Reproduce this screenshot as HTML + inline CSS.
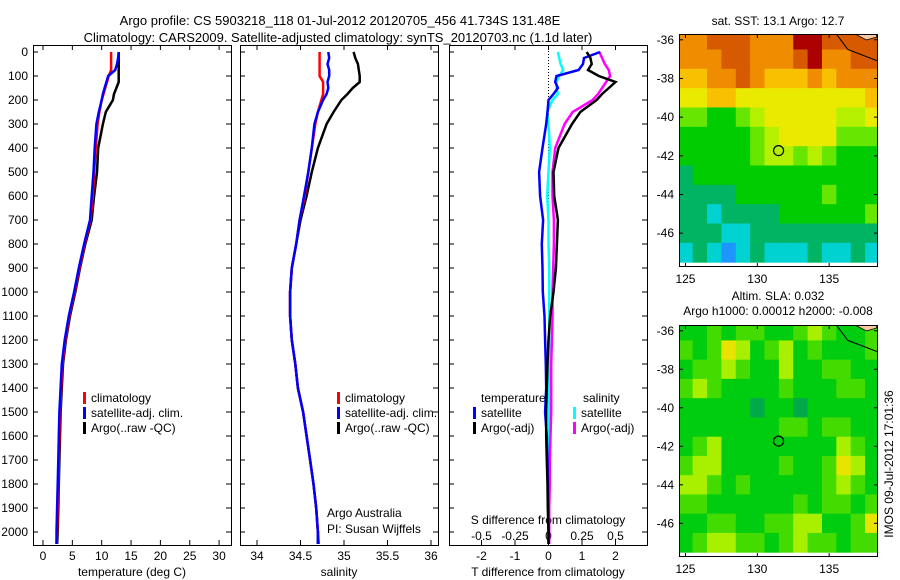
<!DOCTYPE html>
<html><head><meta charset="utf-8">
<style>
html,body{margin:0;padding:0;background:#fff;}
svg{display:block;font-family:"Liberation Sans",sans-serif;font-size:12px;}
</style></head>
<body>
<svg id="c" width="900" height="580" viewBox="0 0 900 580"></svg>
<script>
// ---- profile data ----
const depths=[0,25,50,75,100,125,150,175,200,250,300,400,500,600,700,800,900,1000,1100,1200,1300,1400,1500,1600,1700,1800,1900,2000,2050];
const tempArgo=[12.9,12.9,12.9,12.9,12.9,12.9,12.5,12.1,11.9,10.7,10.2,9.4,9.2,8.7,8.3,7.2,6.3,5.5,4.6,3.9,3.4,3.2,3.0,2.9,2.8,2.7,2.6,2.5,2.4];
const tempClim=[11.6,11.6,11.6,11.6,11.2,10.9,10.6,10.3,10.0,9.6,9.3,9.0,8.7,8.5,8.1,7.1,6.2,5.4,4.5,3.8,3.3,3.1,2.9,2.8,2.7,2.6,2.5,2.4,2.3];
const tempSat=[12.9,12.8,12.6,12.3,11.1,10.8,10.5,10.2,10.0,9.5,9.1,8.8,8.6,8.3,8.0,7.0,6.1,5.3,4.4,3.7,3.2,3.0,2.8,2.7,2.6,2.5,2.4,2.3,2.3];
const salArgo=[35.11,35.13,35.16,35.17,35.18,35.18,35.10,35.04,34.97,34.88,34.80,34.70,34.63,34.57,34.50,34.45,34.40,34.38,34.38,34.40,34.44,34.47,34.53,34.57,34.61,34.65,34.68,34.70,34.70];
const salClim=[34.72,34.72,34.72,34.72,34.72,34.76,34.76,34.76,34.74,34.70,34.67,34.63,34.59,34.55,34.49,34.45,34.40,34.38,34.38,34.40,34.44,34.47,34.53,34.57,34.61,34.65,34.68,34.70,34.71];
const salSat=[34.82,34.83,34.81,34.83,34.83,34.81,34.82,34.80,34.76,34.70,34.66,34.63,34.59,34.54,34.49,34.45,34.40,34.38,34.38,34.40,34.44,34.47,34.53,34.57,34.61,34.65,34.68,34.70,34.70];
const tDiffArgo=[1.14,1.25,1.29,1.18,1.5,2.0,1.8,1.6,1.44,0.95,0.7,0.3,0.15,0.17,0.28,0.25,0.22,0.15,0.05,0.0,-0.03,-0.05,-0.07,-0.07,-0.05,-0.03,-0.02,0,0];
const tDiffSat=[1.54,1.06,1.03,0.9,0.24,0.2,0.28,0.15,0.0,-0.03,-0.07,-0.18,-0.28,-0.25,-0.16,-0.2,-0.18,-0.17,-0.12,-0.1,-0.08,-0.07,-0.1,-0.05,-0.03,-0.02,-0.01,0,0];
const sDiffSat=[0.07,0.08,0.09,0.11,0.08,0.06,0.06,0.07,0.03,-0.01,0,0.01,0,-0.01,0,0,0.005,0.005,0.005,0.005,0.005,0.005,0.005,0.005,0.005,0.005,0.005,0.005,0.005];
const sDiffArgo=[0.38,0.40,0.42,0.45,0.46,0.43,0.40,0.37,0.33,0.18,0.12,0.05,0.03,0.03,0.04,0.04,0.035,0.03,0.03,0.025,0.02,0.02,0.02,0.015,0.01,0.01,0.005,0.005,0.005];
const depthTicks=[0,100,200,300,400,500,600,700,800,900,1000,1100,1200,1300,1400,1500,1600,1700,1800,1900,2000];
const tempTicks=[0,5,10,15,20,25,30];
const salTicks=[34,34.5,35,35.5,36];
const tDiffTicks=[-2,-1,0,1,2];
const sDiffTicks=[-0.5,-0.25,0,0.25,0.5];
// ---- map data (1-degree cells, rows from lat -36 to -47, cols lon 125..138) ----
const mapLons=[125,126,127,128,129,130,131,132,133,134,135,136,137,138];
const mapLats=[-36,-37,-38,-39,-40,-41,-42,-43,-44,-45,-46,-47];
const sstGrid=[
[8,8,9,9,9,8,8,8,10,10,9,9,9,9],
[8,8,8,9,9,8,8,8,9,10,8,8,9,9],
[7,7,8,8,9,8,7,7,7,8,7,8,8,8],
[6,6,7,7,6,6,6,6,6,6,6,6,6,7],
[4,4,3,3,4,5,6,6,6,6,6,5,5,6],
[3,3,3,3,3,4,5,6,6,6,6,4,4,4],
[3,3,3,3,3,4,5,5,4,5,4,3,3,3],
[2,3,3,3,3,3,3,3,3,3,3,3,3,3],
[2,2,2,2,3,3,3,3,3,3,4,3,3,3],
[2,2,1,2,2,2,2,3,3,3,3,3,3,4],
[2,2,2,1,1,2,2,2,2,2,2,2,2,2],
[1,2,1,0,1,2,1,1,1,2,1,1,2,1]];
const slaGrid=[
[3,3,4,3,4,4,3,3,4,5,4,3,3,4],
[4,3,4,6,5,3,4,5,3,4,3,3,3,4],
[3,4,4,5,4,3,3,5,3,3,4,4,3,3],
[4,5,4,3,3,3,3,4,3,3,3,4,4,3],
[3,3,3,3,3,2,3,3,2,3,3,3,3,3],
[3,3,3,3,3,3,3,4,4,3,4,4,3,3],
[3,4,5,3,3,3,3,3,3,3,3,5,4,3],
[4,5,5,3,3,3,3,4,3,3,4,6,5,3],
[5,5,4,3,4,3,3,3,3,3,4,5,4,3],
[4,4,3,3,3,3,3,3,4,3,4,4,3,4],
[3,3,4,4,3,3,4,4,5,5,3,3,4,6],
[3,4,5,5,4,4,3,4,5,4,4,3,4,4]];
const floatLon=131.48, floatLat=-41.73;
const mapLonTicks=[125,130,135];
const mapLatTicks=[-36,-38,-40,-42,-44,-46];
const coastLon=[135.5,136.3,138.4], coastLat=[-35.7,-36.5,-37.1];

const NS="http://www.w3.org/2000/svg";
const svg=document.getElementById('c');
function el(tag,attrs,parent){const e=document.createElementNS(NS,tag);for(const k in attrs)e.setAttribute(k,attrs[k]);(parent||svg).appendChild(e);return e;}
function txt(x,y,s,anchor,parent){const t=el('text',{x:x,y:y,'text-anchor':anchor||'start',fill:'#000'},parent);t.textContent=s;return t;}

const yD=d=>52+d*0.24;
const TOP=45, BOT=545;
const xT=t=>43+t*5.87;
const xS=s=>257+(s-34)*87;
const xTd=t=>548.5+t*33.5;
const xSd=s=>548.5+s*134;

function frame(x0,x1,name){
  const g=el('g',{});
  
  
  el('rect',{x:x0+0.5,y:TOP+0.5,width:x1-x0,height:BOT-TOP,fill:'none',stroke:'#000','stroke-width':1},g);
  depthTicks.forEach(d=>{el('line',{x1:x0,x2:x0+5,y1:yD(d),y2:yD(d),stroke:'#000'},g);el('line',{x1:x1-5,x2:x1,y1:yD(d),y2:yD(d),stroke:'#000'},g);});
  return g;
}
function xticks(g,ticks,f,labY,fmt){
  ticks.forEach(v=>{const x=f(v);el('line',{x1:x,x2:x,y1:TOP,y2:TOP+5,stroke:'#000'},g);el('line',{x1:x,x2:x,y1:BOT-5,y2:BOT,stroke:'#000'},g);if(labY)txt(x,labY,fmt?fmt(v):String(v),'middle',g);});
}
function series(vals,f,color,name){
  const pts=vals.map((v,i)=>f(v).toFixed(1)+','+yD(depths[i]).toFixed(1)).join(' ');
  const p=el('polyline',{points:pts,fill:'none',stroke:color,'stroke-width':2.5,'stroke-linejoin':'miter'});
  
  
}
function legendEntry(x,y,color,label,name){
  const g=el('g',{});
  
  
  el('rect',{x:x,y:y-10,width:3,height:12,fill:color},g);
  txt(x+8,y,label,'start',g);
}

// titles
const t1=txt(340,25,'Argo profile: CS 5903218_118 01-Jul-2012 20120705_456 41.734S 131.48E','middle');
t1.setAttribute('font-size','13');
const t2=txt(338,42,'Climatology: CARS2009. Satellite-adjusted climatology: synTS_20120703.nc (1.1d later)','middle');
t2.setAttribute('font-size','13');

// depth labels
const dl=el('g',{});

depthTicks.forEach(d=>txt(28,yD(d)+4,String(d),'end',dl));

// panel 1
const g1=frame(33,231,'temperature-panel');
xticks(g1,tempTicks,xT,560);
txt(132,576,'temperature (deg C)','middle',g1);
series(tempArgo,xT,'#000','argo-temperature-line');
series(tempClim,xT,'#f00','climatology-temperature-line');
series(tempSat,xT,'#00f','satellite-temperature-line');
legendEntry(83,402,'#f00','climatology','legend-climatology');
legendEntry(83,417,'#00f','satellite-adj. clim.','legend-satellite');
legendEntry(83,432,'#000','Argo(..raw -QC)','legend-argo');

// panel 2
const g2=frame(240,438,'salinity-panel');
xticks(g2,salTicks,xS,560);
txt(339,576,'salinity','middle',g2);
series(salArgo,xS,'#000','argo-salinity-line');
series(salClim,xS,'#f00','climatology-salinity-line');
series(salSat,xS,'#00f','satellite-salinity-line');
legendEntry(337,402,'#f00','climatology','legend-climatology-2');
legendEntry(337,417,'#00f','satellite-adj. clim.','legend-satellite-2');
legendEntry(337,432,'#000','Argo(..raw -QC)','legend-argo-2');
txt(327,517,'Argo Australia','start',g2);
txt(327,533,'PI: Susan Wijffels','start',g2);

// panel 3
const g3=frame(449,647,'difference-panel');
el('line',{x1:xTd(0),x2:xTd(0),y1:TOP,y2:BOT,stroke:'#000','stroke-dasharray':'1,2'},g3);
xticks(g3,tDiffTicks,xTd,560);
sDiffTicks.forEach(v=>txt(xSd(v),540,String(v),'middle',g3));
txt(548,524,'S difference from climatology','middle',g3);
txt(548,576,'T difference from climatology','middle',g3);
series(sDiffSat,xSd,'#0ff','satellite-salinity-diff-line');
series(sDiffArgo,xSd,'#f0f','argo-salinity-diff-line');
series(tDiffSat,xTd,'#00f','satellite-temperature-diff-line');
series(tDiffArgo,xTd,'#000','argo-temperature-diff-line');
txt(481,402,'temperature','start',g3);
txt(583,402,'salinity','start',g3);
legendEntry(473,417,'#00f','satellite','legend-t-satellite');
legendEntry(473,432,'#000','Argo(-adj)','legend-t-argo');
legendEntry(573,417,'#0ff','satellite','legend-s-satellite');
legendEntry(573,432,'#f0f','Argo(-adj)','legend-s-argo');

// maps
const palette=['#1e96ff','#00d2d2','#00b464','#00cc00','#66e600','#b4f000','#eaea00','#f8c000','#f08c00','#d85a00','#aa0000'];
const slaPalette=['#1e96ff','#00d2d2','#00aa48','#00cc10','#44dc00','#a8f000','#e8e400','#f8c000','#f08c00','#d85a00','#aa0000'];
function drawMap(y0,y1,latTop,latBot,grid,pal,name,title1,title2,ty){
  const x0=679,x1=878,lonL=124.55,lonR=138.4;
  const fx=lon=>x0+(lon-lonL)/(lonR-lonL)*(x1-x0);
  const fy=lat=>y0+(latTop-lat)/(latTop-latBot)*(y1-y0);
  const g=el('g',{});
  
  
  const cp='clip-'+name;
  const clip=el('clipPath',{id:cp},g);el('rect',{x:x0,y:y0,width:x1-x0,height:y1-y0},clip);
  const cells=el('g',{'clip-path':'url(#'+cp+')'},g);
  el('rect',{x:x0,y:y0,width:x1-x0,height:y1-y0,fill:'#fff'},cells);
  grid.forEach((row,r)=>row.forEach((v,c)=>{
    const lon=mapLons[c],lat=mapLats[r];
    const xa=fx(lon-0.5),xb=fx(lon+0.5),ya=fy(lat+0.5),yb=fy(lat-0.5);
    const cell=el('rect',{x:xa,y:ya,width:xb-xa+0.5,height:yb-ya+0.5,fill:pal[v]},cells);
    
    
  }));
  // land
  el('path',{d:'M'+fx(136.8)+','+y0+' L'+fx(137.6)+','+(y0+6)+' L'+fx(138.3)+','+(y0+3)+' L'+fx(138.3)+','+y0+' Z',fill:'#f8c8a0',stroke:'#000','stroke-width':0.8},cells);
  el('polyline',{points:coastLon.map((l,i)=>fx(l)+','+fy(coastLat[i])).join(' '),fill:'none',stroke:'#000','stroke-width':1},cells);
  el('circle',{cx:fx(floatLon),cy:fy(floatLat),r:5,fill:'none',stroke:'#000','stroke-width':1.2},g);
  el('rect',{x:x0+0.5,y:y0+0.5,width:x1-x0-1,height:y1-y0-1,fill:'none',stroke:'#000'},g);
  mapLatTicks.forEach(l=>{const y=fy(l);el('line',{x1:x0,x2:x0+4,y1:y,y2:y,stroke:'#000'},g);el('line',{x1:x1-4,x2:x1,y1:y,y2:y,stroke:'#000'},g);txt(x0-5,y+4,String(l),'end',g);});
  mapLonTicks.forEach(l=>{const x=fx(l);el('line',{x1:x,x2:x,y1:y0,y2:y0+4,stroke:'#000'},g);el('line',{x1:x,x2:x,y1:y1-4,y2:y1,stroke:'#000'},g);txt(x,y1+16,String(l),'middle',g);});
  txt(778,ty,title1,'middle',g);
  if(title2)txt(778,ty+15,title2,'middle',g);
}
drawMap(34,267,-35.7,-47.75,sstGrid,palette,'sst-map','sat. SST: 13.1 Argo: 12.7',null,25);
drawMap(325,557,-35.7,-47.75,slaGrid,slaPalette,'sla-map','Altim. SLA: 0.032','Argo h1000: 0.00012 h2000: -0.008',300);
const ts=txt(0,0,'IMOS 09-Jul-2012 17:01:36','middle');
ts.setAttribute('transform','translate(893,464) rotate(-90)');


</script>
</body></html>
